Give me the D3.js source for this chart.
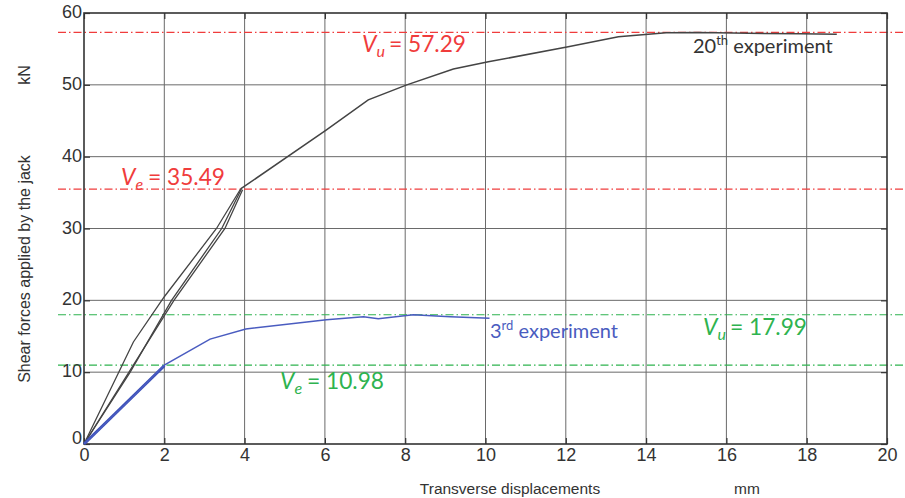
<!DOCTYPE html>
<html><head><meta charset="utf-8">
<script src="https://cdn.jsdelivr.net/npm/d3@7"></script>
<style>body{margin:0;background:#fff}</style>
</head><body><svg id="c" width="905" height="498"></svg>
<script>
// ---- data ----
const xTicks = [0,2,4,6,8,10,12,14,16,18,20];
const yTicks = [0,10,20,30,40,50,60];
// 20th experiment: three loading branches up to elastic limit, then main curve
const exp20LoopA = [[0,0],[1.23,14.2],[2.0,20.5],[3.3,30.0],[3.9,35.5]];
const exp20LoopB = [[0,0],[1.15,10.0],[2.18,20.0],[3.43,30.0],[3.92,35.5]];
const exp20LoopC = [[0,0],[1.12,10.0],[2.24,20.0],[3.51,30.0],[3.95,35.4]];
const exp20Main = [[3.9,35.5],[6.03,43.7],[7.08,47.9],[8.04,50.0],[9.2,52.2],[10.07,53.2],[12.06,55.3],[13.31,56.7],[14.5,57.25],[15.3,57.29],[16.16,57.2],[17.83,57.1],[18.75,57.05]];
// 3rd experiment
const exp3Start = [[0,0],[2.0,10.9]];
const exp3 = [[0,0],[1.0,5.4],[2.0,10.98],[3.14,14.6],[4.03,16.0],[5.55,17.0],[6.04,17.3],[6.96,17.7],[7.33,17.45],[8.2,17.99],[9.12,17.7],[10.1,17.5]];
const refLines = [
  {v:57.29, color:"#f03c3c", label:"u", text:"57.29", lx:362, ly:52},
  {v:35.49, color:"#f03c3c", label:"e", text:"35.49", lx:121, ly:185},
  {v:17.99, color:"#2eb34f", label:"u", text:"17.99", lx:703, ly:335},
  {v:10.98, color:"#2eb34f", label:"e", text:"10.98", lx:280, ly:389}
];

// ---- layout ----
const L=84, R=887, T=13, B=444;
const svg = d3.select("#c");
const x = d3.scaleLinear().domain([0,20]).range([L,R]);
const y = d3.scaleLinear().domain([0,60]).range([B,T]);
const af = "Liberation Sans, Arial, sans-serif";

// grid
const g = svg.append("g");
g.selectAll(".gx").data(xTicks.slice(1,-1)).enter().append("line")
  .attr("x1",d=>x(d)).attr("x2",d=>x(d)).attr("y1",T).attr("y2",B)
  .attr("stroke","#6a6a6a").attr("stroke-width",1);
g.selectAll(".gy").data(yTicks.slice(1,-1)).enter().append("line")
  .attr("x1",L).attr("x2",R).attr("y1",d=>y(d)).attr("y2",d=>y(d))
  .attr("stroke","#6a6a6a").attr("stroke-width",1);

// reference lines
svg.selectAll(".ref").data(refLines).enter().append("line")
  .attr("x1",58).attr("x2",905).attr("y1",d=>y(d.v)).attr("y2",d=>y(d.v))
  .attr("stroke",d=>d.color).attr("stroke-width",1.2)
  .attr("stroke-dasharray","8,3,1.5,3");

// frame
svg.append("rect").attr("x",L).attr("y",T).attr("width",R-L).attr("height",B-T)
  .attr("fill","none").attr("stroke","#333").attr("stroke-width",1.6);

// axes ticks/labels
const ax = d3.axisBottom(x).tickValues(xTicks).tickSize(-6).tickPadding(3);
const gxA = svg.append("g").attr("transform",`translate(0,${B})`).call(ax);
const ay = d3.axisLeft(y).tickValues(yTicks).tickSize(-6).tickPadding(2);
const gyA = svg.append("g").attr("transform",`translate(${L},0)`).call(ay);
[gxA,gyA].forEach(a=>{
  a.select(".domain").remove();
  a.selectAll(".tick line").attr("stroke","#333").attr("stroke-width",1.2);
  a.selectAll("text").attr("font-family",af).attr("font-size",18).attr("fill","#333");
});
gxA.selectAll("text").attr("dy","0.8em");
gyA.selectAll("text").attr("dy",d=>d===0?"-0.05em":"0.25em");
// top and right ticks
svg.append("g").attr("transform",`translate(0,${T})`).call(d3.axisTop(x).tickValues(xTicks).tickSize(-6).tickFormat(""))
  .call(a=>{a.select(".domain").remove();a.selectAll("line").attr("stroke","#333").attr("stroke-width",1.2);});
svg.append("g").attr("transform",`translate(${R},0)`).call(d3.axisRight(y).tickValues(yTicks).tickSize(-6).tickFormat(""))
  .call(a=>{a.select(".domain").remove();a.selectAll("line").attr("stroke","#333").attr("stroke-width",1.2);});

// axis titles
svg.append("text").attr("x",510).attr("y",494).attr("text-anchor","middle")
  .attr("font-family",af).attr("font-size",15.5).attr("fill","#333")
  .text("Transverse displacements");
svg.append("text").attr("x",747).attr("y",494).attr("text-anchor","middle")
  .attr("font-family",af).attr("font-size",15.5).attr("fill","#333")
  .text("mm");
svg.append("text").attr("transform","translate(30,269) rotate(-90)").attr("text-anchor","middle")
  .attr("font-family",af).attr("font-size",16).attr("fill","#333")
  .text("Shear forces applied by the jack");
svg.append("text").attr("transform","translate(30,75) rotate(-90)").attr("text-anchor","middle")
  .attr("font-family",af).attr("font-size",16).attr("fill","#333")
  .text("kN");

// curves
const line = d3.line().x(d=>x(d[0])).y(d=>y(d[1]));
[exp20LoopA,exp20LoopB,exp20LoopC].forEach(d=>{
  svg.append("path").attr("d",line(d)).attr("fill","none").attr("stroke","#444").attr("stroke-width",1.3);
});
svg.append("path").attr("d",line(exp20Main)).attr("fill","none").attr("stroke","#444").attr("stroke-width",1.5);
svg.append("path").attr("d",line(exp3Start)).attr("fill","none").attr("stroke","#3a4fb8").attr("stroke-width",3);
svg.append("path").attr("d",line(exp3)).attr("fill","none").attr("stroke","#4a5cc0").attr("stroke-width",1.5);

// annotations
const lf = "Lato, 'Open Sans', sans-serif";
refLines.forEach(d=>{
  const t = svg.append("text").attr("x",d.lx).attr("y",d.ly).attr("font-family",lf)
    .attr("font-size",23).attr("fill",d.color);
  t.append("tspan").attr("font-style","italic").text("V");
  t.append("tspan").attr("font-style","italic").attr("font-size",16).attr("dy",5).text(d.label);
  t.append("tspan").attr("dy",-5).attr("x",d.lx+27).text("=");
  t.append("tspan").attr("x",d.lx+46).attr("textLength",58).attr("lengthAdjust","spacingAndGlyphs").text(d.text);
});
const e20 = svg.append("text").attr("x",693).attr("y",53).attr("font-family",lf).attr("font-size",20).attr("fill","#333");
e20.append("tspan").text("20");
e20.append("tspan").attr("font-size",13).attr("dy",-8).text("th");
e20.append("tspan").attr("dy",8).text(" experiment");
const e3 = svg.append("text").attr("x",490).attr("y",338).attr("font-family",lf).attr("font-size",20).attr("fill","#4a5cc0");
e3.append("tspan").text("3");
e3.append("tspan").attr("font-size",13).attr("dy",-8).text("rd");
e3.append("tspan").attr("dy",8).text(" experiment");
</script></body></html>
